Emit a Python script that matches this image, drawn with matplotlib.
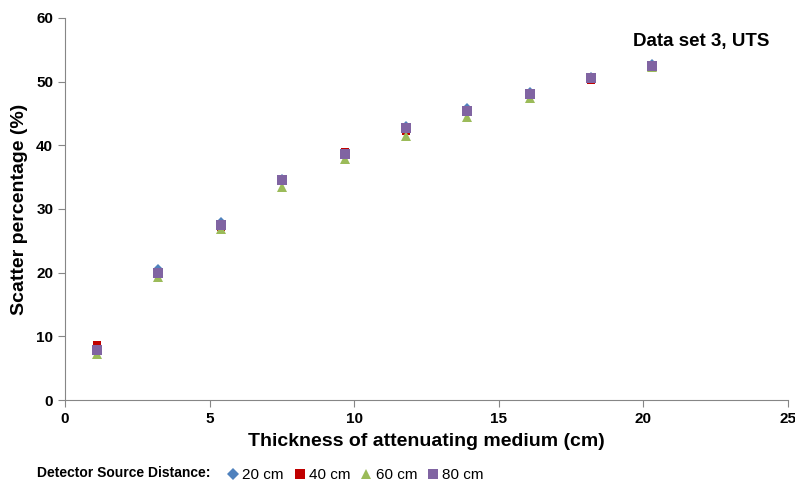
import matplotlib
matplotlib.use("Agg")
import matplotlib.pyplot as plt

plt.rcParams['font.family'] = ['Liberation Sans', 'DejaVu Sans']

thickness = [1.1, 3.2, 5.4, 7.5, 9.7, 11.8, 13.9, 16.1, 18.2, 20.3]
scatter_20 = [8.0, 20.5, 28.0, 34.7, 38.8, 43.0, 45.8, 48.3, 50.8, 52.8]
scatter_40 = [8.6, 20.0, 27.2, 34.5, 39.0, 42.2, 45.2, 48.0, 50.3, 52.1]
scatter_60 = [7.3, 19.3, 26.8, 33.5, 37.8, 41.5, 44.5, 47.5, 50.5, 52.3]
scatter_80 = [7.9, 19.9, 27.5, 34.5, 38.7, 42.7, 45.4, 48.0, 50.5, 52.5]
labels = ['20 cm', '40 cm', '60 cm', '80 cm']

fig = plt.figure(figsize=(7.95, 4.83), dpi=100)
ax = fig.add_axes([0.0818, 0.1718, 0.909, 0.791])

styles = [('D', '#4F81BD', 5), ('s', '#C00000', 6), ('^', '#9BBB59', 6.5), ('s', '#8064A2', 6.5)]
series = [scatter_20, scatter_40, scatter_60, scatter_80]
handles = []
for ys, (m, c, ms), lab in zip(series, styles, labels):
    h, = ax.plot(thickness, ys, linestyle='none', marker=m, color=c,
                 markersize=ms, markeredgewidth=0, label=lab)
    handles.append(h)

ax.set_xlim(0, 25)
ax.set_ylim(0, 60)
ax.set_xticks(range(0, 26, 5))
ax.set_yticks(range(0, 61, 10))
for s in ['top', 'right']:
    ax.spines[s].set_visible(False)
for s in ['left', 'bottom']:
    ax.spines[s].set_color('#868686')
ax.tick_params(direction='out', length=5, color='#868686', labelsize=11)
for t in ax.get_xticklabels() + ax.get_yticklabels():
    t.set_fontweight('bold')

ax.set_xlabel('Thickness of attenuating medium (cm)', fontsize=14, fontweight='bold', labelpad=5)
ax.set_ylabel('Scatter percentage (%)', fontsize=14, fontweight='bold', labelpad=6)
ax.text(0.975, 0.915, 'Data set 3, UTS', transform=ax.transAxes, ha='right', va='bottom',
        fontsize=13.5, fontweight='bold')

# legend row along the bottom
fig.text(0.047, 0.021, 'Detector Source Distance:', fontsize=10, fontweight='bold', va='center')
fig.legend(handles=handles, labels=labels, ncol=4, loc='lower left',
           bbox_to_anchor=(0.27, -0.027), frameon=False, fontsize=11, markerscale=1.15,
           handlelength=0.6, handletextpad=0.3, columnspacing=0.75)

fig.savefig('out.png', dpi=100)
